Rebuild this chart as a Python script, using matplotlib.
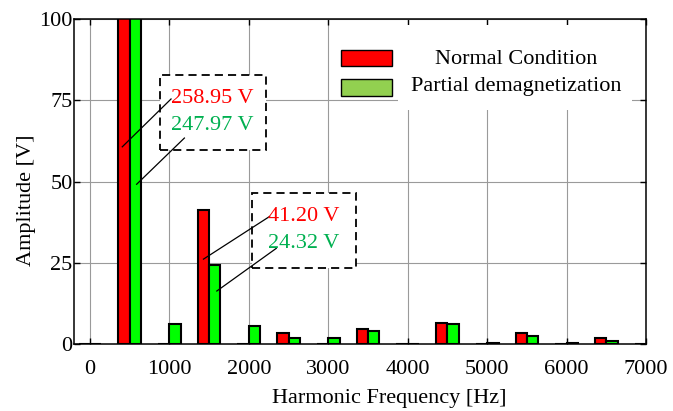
import matplotlib
matplotlib.use("Agg")
import matplotlib.pyplot as plt
from matplotlib.patches import Rectangle

plt.rcParams['font.family'] = ['Liberation Serif', 'DejaVu Serif']
plt.rcParams['font.size'] = 16

# harmonic spectrum, amplitudes in V
freqs = [0, 500, 1000, 1500, 2000, 2500, 3000, 3500, 4000, 4500, 5000, 5500, 6000, 6500, 7000]
normal = [0, 258.95, 0, 41.20, 0, 3.6, 0, 4.7, 0, 6.6, 0, 3.6, 0, 2.0, 0]
demag = [0, 247.97, 6.2, 24.32, 5.6, 2.0, 2.0, 4.1, 0, 6.3, 0.3, 2.6, 0.5, 0.9, 0]
series_names = ["Normal Condition", "Partial demagnetization"]
xticks = [0, 1000, 2000, 3000, 4000, 5000, 6000, 7000]
yticks = [0, 25, 50, 75, 100]

red = '#FF0000'
green = '#00FF00'
green_legend = '#92D050'
green_text = '#00B050'

fig = plt.figure(figsize=(6.73, 4.11), dpi=100)
ax = fig.add_axes([0.110, 0.162, 0.850, 0.792])
ax.set_axisbelow(True)

bw = 143
ax.bar([f - bw / 2 for f in freqs], normal, width=bw, color=red,
       edgecolor='black', linewidth=1.5, zorder=2)
ax.bar([f + bw / 2 for f in freqs], demag, width=bw, color=green,
       edgecolor='black', linewidth=1.5, zorder=2)

ax.set_xlim(-200, 7000)
ax.set_ylim(0, 100)
ax.set_xticks(xticks)
ax.set_yticks(yticks)
ax.grid(True, color='#9a9a9a', linewidth=0.8)
ax.tick_params(direction='in', top=True, right=True, length=4, width=1.0)
ax.tick_params(axis='x', pad=11)
ax.tick_params(axis='y', pad=1)
for s in ax.spines.values():
    s.set_linewidth(1.1)

ax.set_xlabel('Harmonic Frequency [Hz]', va='center')
ax.xaxis.set_label_coords(0.551, -0.165)
ax.set_ylabel('Amplitude [V]', va='center')
ax.yaxis.set_label_coords(-0.083, 0.444)

# callout boxes with the actual values
dash = (0, (4.5, 2.8))
ax.add_patch(Rectangle((883, 59.6), 2211 - 883, 82.9 - 59.6, facecolor='white',
                       edgecolor='black', linewidth=1.3, linestyle=dash, zorder=3))
ax.add_patch(Rectangle((2038, 23.4), 3354 - 2038, 46.5 - 23.4, facecolor='white',
                       edgecolor='black', linewidth=1.3, linestyle=dash, zorder=3))

ax.plot([407, 1021], [60.7, 75.4], color='black', linewidth=0.9, zorder=4)
ax.plot([588, 1189], [49.2, 63.4], color='black', linewidth=0.9, zorder=4)
ax.plot([1429, 2261], [26.2, 39.3], color='black', linewidth=0.9, zorder=4)
ax.plot([1597, 2345], [16.4, 29.5], color='black', linewidth=0.9, zorder=4)

ax.text(1536, 75.5, '%.2f V' % normal[1], color=red, ha='center', va='center', zorder=5)
ax.text(1536, 67.2, '%.2f V' % demag[1], color=green_text, ha='center', va='center', zorder=5)
ax.text(2690, 39.3, '%.2f V' % normal[3], color=red, ha='center', va='center', zorder=5)
ax.text(2690, 31.1, '%.2f V' % demag[3], color=green_text, ha='center', va='center', zorder=5)

# legend, drawn by hand so the labels are centred
ax.add_patch(Rectangle((0.566, 0.720), 0.410, 0.262, transform=ax.transAxes,
                       facecolor='white', edgecolor='none', zorder=3))
ax.add_patch(Rectangle((0.466, 0.8555), 0.089, 0.049, transform=ax.transAxes,
                       facecolor=red, edgecolor='black', linewidth=1.0, zorder=4))
ax.add_patch(Rectangle((0.466, 0.7642), 0.089, 0.051, transform=ax.transAxes,
                       facecolor=green_legend, edgecolor='black', linewidth=1.0, zorder=4))
ax.text(0.7727, 0.874, series_names[0], transform=ax.transAxes,
        ha='center', va='center', zorder=5)
ax.text(0.7727, 0.792, series_names[1], transform=ax.transAxes,
        ha='center', va='center', zorder=5)

fig.savefig('out.png', dpi=100)
